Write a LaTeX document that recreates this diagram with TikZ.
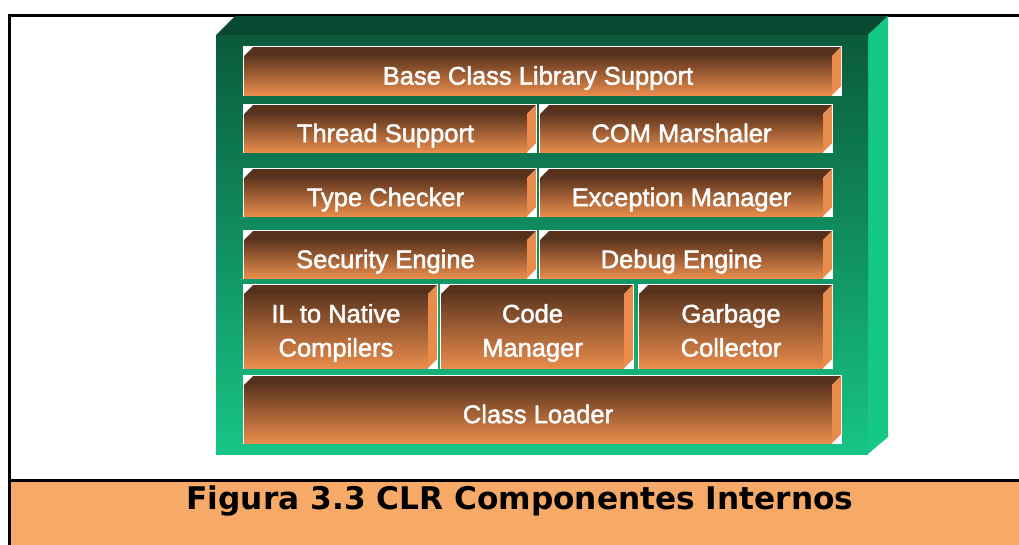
\documentclass[tikz,border=0pt]{standalone}
\usepackage{fontspec}
\setmainfont{Liberation Sans}
\newfontfamily\compfont[FakeBold=1.8]{Liberation Sans}
\newfontfamily\capfont{DejaVu Sans}
\definecolor{capfill}{HTML}{F7A967}
\definecolor{gtop}{HTML}{074A31}
\definecolor{gside}{HTML}{16C886}
\definecolor{gfronttop}{HTML}{0A5A3C}
\definecolor{gfrontbot}{HTML}{17C585}
\definecolor{btop}{HTML}{56321D}
\definecolor{bfronttop}{HTML}{5E361F}
\definecolor{bfrontbot}{HTML}{E98C4C}
\definecolor{bside}{HTML}{E98B4A}
% name, x0, y0, x1, y1, text, style
\newcommand{\compbox}[7]{%
  \fill[white] (#2,#3) rectangle (#4,#5);
  \fill[btop] (#2+1,#3+10) -- (#2+10,#3+1) -- (#4-1,#3+1) -- (#4-10,#3+10) -- cycle;
  \shade[top color=bfronttop,bottom color=bfrontbot] (#2+1,#3+10) rectangle (#4-10,#5-1);
  \fill[bside] (#4-10,#3+10) -- (#4-1,#3+1) -- (#4-1,#5-10) -- (#4-10,#5-1) -- cycle;
  \node[#7] (#1) at ({(#2+#4-9)/2},{(#3+#5+9)/2}) {#6};
}
\begin{document}
\begin{tikzpicture}[x=1pt,y=-1pt,
  comptext/.style={text=white,font=\compfont\fontsize{25.5}{34}\selectfont,inner sep=0pt,align=center},
  oneline/.style={comptext,text height=18.3pt,text depth=0pt},
  twoline/.style={comptext,text depth=5.4pt,yshift=-2pt},
  framestyle/.style={line width=2.6pt,draw=black}]
\useasboundingbox (0,0) rectangle (1019,544);
% caption band and frame
\fill[capfill] (9.5,480) rectangle (1030,550);
\draw[framestyle] (1030,15.5) -- (9.5,15.5) -- (9.5,550);
\draw[framestyle] (9.5,480.3) -- (1030,480.3);
% green 3D box
\fill[gtop] (216,35) -- (235,16) -- (888,16) -- (868,35) -- cycle;
\fill[gside] (868,35) -- (888,16) -- (888,437) -- (868,454) -- cycle;
\shade[top color=gfronttop,bottom color=gfrontbot] (216,35) rectangle (868,454);
% components
\compbox{bcl}{243}{46}{842}{96}{Base Class Library Support}{oneline}
\compbox{thread}{243}{104}{537}{153}{Thread Support}{oneline}
\compbox{com}{539}{104}{833}{153}{COM Marshaler}{oneline}
\compbox{type}{243}{168}{537}{217}{Type Checker}{oneline}
\compbox{exc}{539}{168}{833}{217}{Exception Manager}{oneline}
\compbox{sec}{243}{230}{537}{279}{Security Engine}{oneline}
\compbox{dbg}{539}{230}{833}{279}{Debug Engine}{oneline}
\compbox{il}{243}{284}{438}{369}{IL to Native\\Compilers}{twoline}
\compbox{code}{440}{284}{634}{369}{Code\\Manager}{twoline}
\compbox{gc}{638}{284}{833}{369}{Garbage\\Collector}{twoline}
\compbox{cl}{243}{375}{842}{444}{Class Loader}{oneline}
% caption
\node[anchor=base,inner sep=0pt,font=\capfont\bfseries\fontsize{31.2}{36}\selectfont] (caption) at (520,509) {Figura 3.3 CLR Componentes Internos};
\end{tikzpicture}
\end{document}
